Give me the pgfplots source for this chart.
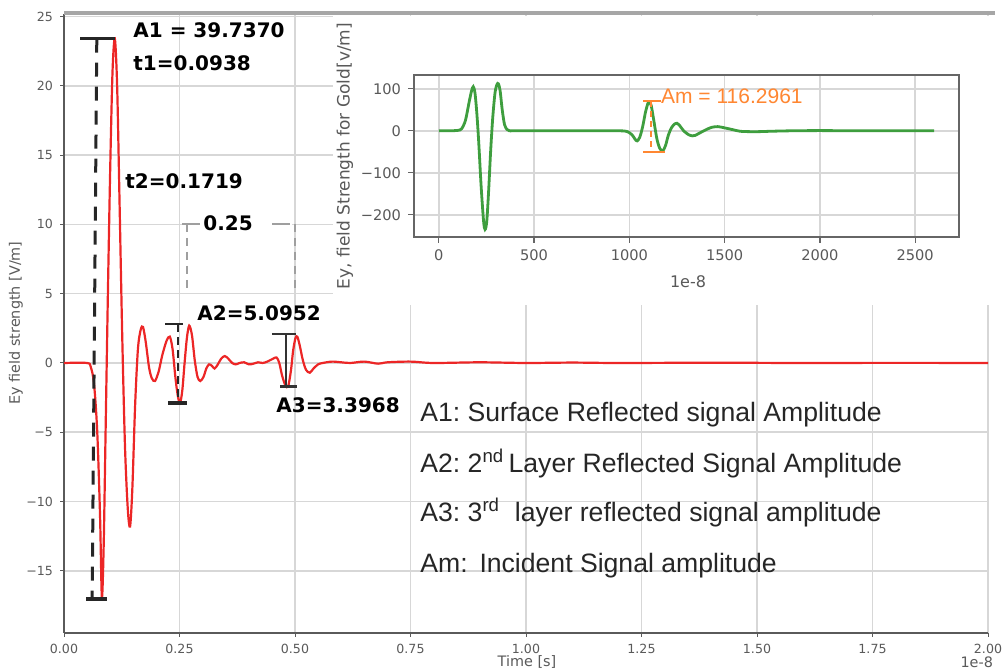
\documentclass[border=0pt]{standalone}
\usepackage{pgfplots}
\pgfplotsset{compat=1.18}
\usepackage{fontspec}
\setmainfont{Liberation Sans}
\newfontfamily\dejavu{DejaVu Sans}
\definecolor{myred}{RGB}{236,38,38}
\definecolor{mygreen}{RGB}{62,158,62}
\definecolor{myorange}{RGB}{255,135,50}
\definecolor{tickgray}{RGB}{90,90,90}
\definecolor{gridgray}{RGB}{215,215,215}
\begin{document}
\begin{tikzpicture}
\path[use as bounding box] (0pt,0pt) rectangle (503.5pt,336pt);
\begin{axis}[
  at={(32pt,19.5pt)}, anchor=south west,
  scale only axis, width=462pt, height=309.5pt,
  xmin=0, xmax=2, ymin=-19.48, ymax=25.18,
  axis lines*=left,
  axis line style={-, draw=tickgray, line width=0.6pt},
  xtick={0,0.25,0.5,0.75,1,1.25,1.5,1.75,2},
  xticklabels={0.00,0.25,0.50,0.75,1.00,1.25,1.50,1.75,2.00},
  ytick={-15,-10,-5,0,5,10,15,20,25},
  yticklabels={−15,−10,−5,0,5,10,15,20,25},
  tick align=outside, major tick length=2pt,
  tick style={tickgray, line width=0.5pt},
  ticklabel style={font=\dejavu\fontsize{6.3}{7}\selectfont, text=tickgray},
  grid=major, major grid style={gridgray, line width=0.8pt},
]
\addplot[myred, line width=1.1pt, smooth, tension=0.5] coordinates {
(0,0) (0.05,0) (0.058,-0.3) (0.065,-1.5) (0.072,-5) (0.078,-11) (0.082,-16.9)
(0.086,-13) (0.090,-5) (0.095,5) (0.100,14) (0.105,21) (0.110,23.4) (0.115,20)
(0.120,12) (0.126,2) (0.132,-6) (0.138,-10.5) (0.143,-11.8) (0.148,-9) (0.154,-3)
(0.160,1) (0.166,2.4) (0.171,2.6) (0.177,1.5) (0.184,-0.3) (0.190,-1.1) (0.197,-1.3)
(0.205,-0.6) (0.213,0.6) (0.222,1.6) (0.229,1.9) (0.235,1.0) (0.241,-1.0) (0.246,-2.3)
(0.251,-2.9) (0.256,-2.0) (0.261,0.0) (0.266,1.8) (0.271,2.7) (0.277,2.0) (0.283,0.2)
(0.289,-1.0) (0.295,-1.3) (0.302,-1.0) (0.308,-0.4) (0.314,-0.1) (0.320,-0.2) (0.326,-0.4)
(0.333,-0.1) (0.340,0.3) (0.348,0.5) (0.356,0.3) (0.364,0.0) (0.372,-0.1) (0.38,0.0)
(0.39,0.05) (0.40,-0.1) (0.41,-0.05) (0.42,0.05) (0.43,0.0) (0.44,0.1) (0.452,0.3)
(0.460,0.4) (0.466,0.0) (0.472,-0.9) (0.479,-1.6) (0.485,-1.7) (0.491,-0.6) (0.496,0.9)
(0.501,1.8) (0.505,1.9) (0.510,1.3) (0.517,0.2) (0.524,-0.5) (0.532,-0.7) (0.540,-0.4)
(0.550,-0.1) (0.56,0.0) (0.58,0.1) (0.60,0.05) (0.62,0.0) (0.65,0.1) (0.68,-0.05)
(0.70,0.05) (0.75,0.1) (0.80,0.0) (0.90,0.05) (1.0,0.0) (1.1,0.03) (1.2,0.0) (1.4,0.02)
(1.6,0.0) (1.8,0.01) (2.0,0.0)
};
% A1 marker
\draw[black!85, line width=1.5pt, dash pattern=on 7pt off 5pt] (axis cs:0.071,23.4) -- (axis cs:0.061,-17.0);
\draw[black!85, line width=1.5pt] (axis cs:0.035,23.4) -- (axis cs:0.110,23.4);
\draw[black!85, line width=2pt] (axis cs:0.048,-17.0) -- (axis cs:0.093,-17.0);
% A2 marker
\draw[black!85, line width=1.3pt, dash pattern=on 4pt off 2.5pt] (axis cs:0.247,2.8) -- (axis cs:0.247,-2.9);
\draw[black!85, line width=1.3pt] (axis cs:0.219,2.8) -- (axis cs:0.258,2.8);
\draw[black!85, line width=2pt] (axis cs:0.225,-2.9) -- (axis cs:0.266,-2.9);
% A3 marker
\draw[black!80, line width=1.2pt] (axis cs:0.480,2.1) -- (axis cs:0.480,-1.7);
\draw[black!80, line width=1.3pt] (axis cs:0.450,2.1) -- (axis cs:0.502,2.1);
\draw[black!80, line width=1.5pt] (axis cs:0.468,-1.7) -- (axis cs:0.504,-1.7);
\end{axis}

\begin{scope}[shift={(0pt,336pt)}, x=0.5pt, y=-0.5pt]
  \fill[white] (333,16) rectangle (1007,305);
  \fill[white] (190,213) rectangle (292,288);
  \draw[gray!70, line width=2pt] (64,13) -- (995,13);
\end{scope}

\begin{axis}[
  at={(207pt,217.5pt)}, anchor=south west,
  scale only axis, width=272.5pt, height=81pt,
  xmin=-130, xmax=2730, ymin=-253, ymax=133,
  xtick={0,500,1000,1500,2000,2500},
  xticklabels={0,500,1000,1500,2000,2500},
  ytick={-200,-100,0,100},
  yticklabels={−200,−100,0,100},
  axis background/.style={fill=white},
  axis line style={draw=black!60, line width=0.8pt},
  tick align=outside, major tick length=3pt,
  tick style={black!60, line width=0.6pt},
  xtick pos=bottom, ytick pos=left,
  ticklabel style={font=\dejavu\fontsize{7.3}{8}\selectfont, text=black!65},
  grid=major, major grid style={gridgray, line width=0.8pt},
  clip=false,
]
\addplot[mygreen, line width=1.4pt, smooth, tension=0.5] coordinates {
(0,0) (50,0) (100,1) (120,5) (140,25) (160,70) (172,95) (181,105) (190,90) (200,40)
(210,-30) (222,-130) (235,-215) (243,-235) (252,-215) (262,-140) (272,-50) (283,30)
(295,90) (305,110) (313,112) (322,95) (333,50) (345,15) (358,3) (371,0) (400,0)
(600,0) (800,0) (950,0) (990,-2) (1015,-10) (1030,-20) (1041,-24) (1055,-15) (1070,10)
(1085,45) (1098,66) (1105,69) (1115,60) (1130,20) (1145,-20) (1160,-42) (1175,-48)
(1190,-35) (1205,-10) (1222,8) (1240,17) (1250,18) (1265,12) (1285,0) (1310,-9)
(1330,-12) (1345,-11) (1370,-5) (1400,2) (1430,8) (1464,10) (1500,7) (1540,3)
(1580,-1) (1629,-2) (1680,-2) (1750,-1) (1850,0) (2000,0.5) (2200,0) (2400,0) (2600,0)
};
\draw[myorange, line width=1pt, dash pattern=on 3pt off 2pt] (axis cs:1116,70) -- (axis cs:1116,-50);
\draw[myorange, line width=1pt] (axis cs:1074,70) -- (axis cs:1167,70);
\draw[myorange, line width=1pt] (axis cs:1074,-50) -- (axis cs:1188,-50);
\node[anchor=west, inner sep=0pt, text=myorange, font=\fontsize{10.5}{12}\selectfont] at (axis cs:1165,82) {Am = 116.2961};
\end{axis}

\begin{scope}[shift={(0pt,336pt)}, x=0.5pt, y=-0.5pt]
  % gray dashed guides near 0.25
  \draw[gray!75, line width=0.7pt, dash pattern=on 4pt off 3pt] (187,224) -- (187,292);
  \draw[gray!75, line width=0.7pt, dash pattern=on 4pt off 3pt] (295,224) -- (295,292);
  \draw[gray!75, line width=0.7pt] (182,224) -- (200,224);
  \draw[gray!75, line width=0.7pt] (272,224) -- (290,224);
  % bold annotations
  \begin{scope}[every node/.style={anchor=west, inner sep=0pt, font=\dejavu\bfseries\fontsize{10}{12}\selectfont}]
    \node at (133,30) {A1 = 39.7370};
    \node at (133,63) {t1=0.0938};
    \node at (125,181) {t2=0.1719};
    \node at (203,223) {0.25};
    \node at (197,313) {A2=5.0952};
    \node at (276,405) {A3=3.3968};
  \end{scope}
  % descriptions
  \begin{scope}[every node/.style={anchor=base west, inner sep=0pt, text=black!85, font=\fontsize{13.3}{15}\selectfont}]
    \node at (420,422) {A1:\ Surface Reflected signal Amplitude};
    \node at (420,473) {A2:\ 2\textsuperscript{nd}\,Layer Reflected Signal Amplitude};
    \node at (420,522) {A3:\ 3\textsuperscript{rd}\ \ layer reflected signal amplitude};
    \node at (420,573) {Am:\ \,Incident Signal amplitude};
  \end{scope}
  % axis labels
  \node[rotate=90, text=tickgray, font=\dejavu\fontsize{7.2}{8}\selectfont] at (16,323) {Ey field strength [V/m]};
  \node[text=tickgray, font=\dejavu\fontsize{7.2}{8}\selectfont] at (527,662) {Time [s]};
  \node[anchor=east, text=tickgray, font=\dejavu\fontsize{7.2}{8}\selectfont] at (1000,662) {1e-8};
  \node[rotate=90, text=black!65, font=\dejavu\fontsize{8.5}{10}\selectfont] at (345,156) {Ey, field Strength for Gold[v/m]};
  \node[text=black!65, font=\dejavu\fontsize{8}{9}\selectfont] at (688,282) {1e-8};
\end{scope}
\end{tikzpicture}
\end{document}
